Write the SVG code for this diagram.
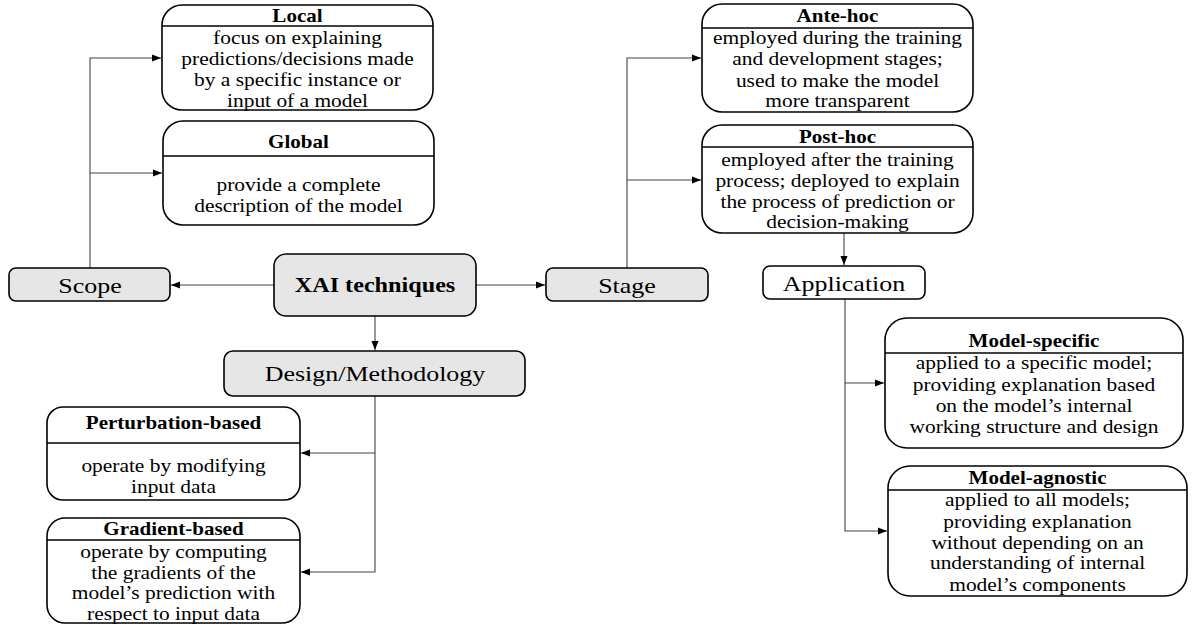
<svg xmlns="http://www.w3.org/2000/svg" width="1194" height="628" viewBox="0 0 1194 628" font-family="'Liberation Serif', 'Times New Roman', 'DejaVu Serif', serif">
<defs>
<marker id="ah" markerUnits="userSpaceOnUse" markerWidth="10" markerHeight="8" refX="9" refY="4" orient="auto">
<path d="M0,0.5 L9,4 L0,7.5 Z" fill="#000"/>
</marker>
<style>
.box{fill:#fff;stroke:#000;stroke-width:1.6}
.gbox{fill:#e6e6e6;stroke:#000;stroke-width:1.6}
.hl{stroke:#000;stroke-width:1.6}
.ca{fill:none;stroke:#444;stroke-width:1.1;marker-end:url(#ah)}
text{font-family:'Liberation Serif','Times New Roman','DejaVu Serif',serif;fill:#000;text-anchor:middle}
.t{font-size:18px;font-weight:bold}
.d{font-size:18px}
.l{font-size:22px}
.x{font-size:22px;font-weight:bold}
</style>
</defs>
<rect width="1194" height="628" fill="#fff"/>

<g id="connectors">
<path class="ca" d="M274,285 H171"/>
<path class="ca" d="M476,285 H545"/>
<path class="ca" d="M375,316 V350"/>
<path class="ca" d="M90,268 V58 H161"/>
<path class="ca" d="M90,173 H162"/>
<path class="ca" d="M627,268 V58 H701"/>
<path class="ca" d="M627,180 H701"/>
<path class="ca" d="M844,233 V265"/>
<path class="ca" d="M845,299 V531 H887"/>
<path class="ca" d="M845,383 H884"/>
<path class="ca" d="M375,396 V572 H301"/>
<path class="ca" d="M375,453 H301"/>
</g>

<g id="xai">
<rect class="gbox" x="274" y="254" width="202" height="62" rx="12"/>
<text class="x" transform="translate(375,292) scale(1.1,1)">XAI techniques</text>
</g>

<g id="scope">
<rect class="gbox" x="9" y="268" width="161" height="33" rx="7"/>
<text class="l" transform="translate(90,293) scale(1.18,1)">Scope</text>
</g>

<g id="stage">
<rect class="gbox" x="546" y="268" width="162" height="33" rx="7"/>
<text class="l" transform="translate(627,293) scale(1.18,1)">Stage</text>
</g>

<g id="design">
<rect class="gbox" x="224" y="351" width="301" height="45" rx="9"/>
<text class="l" transform="translate(375,381) scale(1.18,1)">Design/Methodology</text>
</g>

<g id="application">
<rect class="box" x="763" y="266" width="162" height="33" rx="7"/>
<text class="l" transform="translate(844,291) scale(1.18,1)">Application</text>
</g>

<g id="local">
<rect class="box" x="162" y="5" width="271" height="105" rx="20"/>
<line class="hl" x1="162" y1="26" x2="433" y2="26"/>
<text class="t" transform="translate(297.5,22) scale(1.17,1)">Local</text>
<text class="d" transform="translate(297.5,44) scale(1.19,1)">focus on explaining</text>
<text class="d" transform="translate(297.5,65) scale(1.19,1)">predictions/decisions made</text>
<text class="d" transform="translate(297.5,86) scale(1.19,1)">by a specific instance or</text>
<text class="d" transform="translate(297.5,107) scale(1.19,1)">input of a model</text>
</g>

<g id="global">
<rect class="box" x="163" y="121" width="271" height="104" rx="20"/>
<line class="hl" x1="163" y1="156" x2="434" y2="156"/>
<text class="t" transform="translate(298.5,148) scale(1.17,1)">Global</text>
<text class="d" transform="translate(298.5,191) scale(1.19,1)">provide a complete</text>
<text class="d" transform="translate(298.5,212) scale(1.19,1)">description of the model</text>
</g>

<g id="antehoc">
<rect class="box" x="702" y="4" width="271" height="108" rx="20"/>
<line class="hl" x1="702" y1="28" x2="973" y2="28"/>
<text class="t" transform="translate(837.5,22) scale(1.17,1)">Ante-hoc</text>
<text class="d" transform="translate(837.5,44) scale(1.19,1)">employed during the training</text>
<text class="d" transform="translate(837.5,65) scale(1.19,1)">and development stages;</text>
<text class="d" transform="translate(837.5,87) scale(1.19,1)">used to make the model</text>
<text class="d" transform="translate(837.5,107) scale(1.19,1)">more transparent</text>
</g>

<g id="posthoc">
<rect class="box" x="702" y="125" width="271" height="108" rx="20"/>
<line class="hl" x1="702" y1="147" x2="973" y2="147"/>
<text class="t" transform="translate(837.5,143) scale(1.17,1)">Post-hoc</text>
<text class="d" transform="translate(837.5,166) scale(1.19,1)">employed after the training</text>
<text class="d" transform="translate(837.5,187) scale(1.19,1)">process; deployed to explain</text>
<text class="d" transform="translate(837.5,208) scale(1.19,1)">the process of prediction or</text>
<text class="d" transform="translate(837.5,228) scale(1.19,1)">decision-making</text>
</g>

<g id="perturbation">
<rect class="box" x="47" y="407" width="253" height="93" rx="16"/>
<line class="hl" x1="47" y1="443" x2="300" y2="443"/>
<text class="t" transform="translate(173.5,429) scale(1.17,1)">Perturbation-based</text>
<text class="d" transform="translate(173.5,472) scale(1.19,1)">operate by modifying</text>
<text class="d" transform="translate(173.5,493) scale(1.19,1)">input data</text>
</g>

<g id="gradient">
<rect class="box" x="47" y="518" width="253" height="105" rx="18"/>
<line class="hl" x1="47" y1="540" x2="300" y2="540"/>
<text class="t" transform="translate(173.5,535) scale(1.17,1)">Gradient-based</text>
<text class="d" transform="translate(173.5,558) scale(1.19,1)">operate by computing</text>
<text class="d" transform="translate(173.5,579) scale(1.19,1)">the gradients of the</text>
<text class="d" transform="translate(173.5,599) scale(1.19,1)">model’s prediction with</text>
<text class="d" transform="translate(173.5,620) scale(1.19,1)">respect to input data</text>
</g>

<g id="modelspecific">
<rect class="box" x="885" y="318" width="298" height="130" rx="22"/>
<line class="hl" x1="885" y1="353" x2="1183" y2="353"/>
<text class="t" transform="translate(1034,347) scale(1.17,1)">Model-specific</text>
<text class="d" transform="translate(1034,369) scale(1.19,1)">applied to a specific model;</text>
<text class="d" transform="translate(1034,391) scale(1.19,1)">providing explanation based</text>
<text class="d" transform="translate(1034,412) scale(1.19,1)">on the model’s internal</text>
<text class="d" transform="translate(1034,433) scale(1.19,1)">working structure and design</text>
</g>

<g id="modelagnostic">
<rect class="box" x="888" y="466" width="299" height="130" rx="22"/>
<line class="hl" x1="888" y1="490" x2="1187" y2="490"/>
<text class="t" transform="translate(1037.5,484) scale(1.17,1)">Model-agnostic</text>
<text class="d" transform="translate(1037.5,506) scale(1.19,1)">applied to all models;</text>
<text class="d" transform="translate(1037.5,528) scale(1.19,1)">providing explanation</text>
<text class="d" transform="translate(1037.5,549) scale(1.19,1)">without depending on an</text>
<text class="d" transform="translate(1037.5,569) scale(1.19,1)">understanding of internal</text>
<text class="d" transform="translate(1037.5,591) scale(1.19,1)">model’s components</text>
</g>
</svg>
